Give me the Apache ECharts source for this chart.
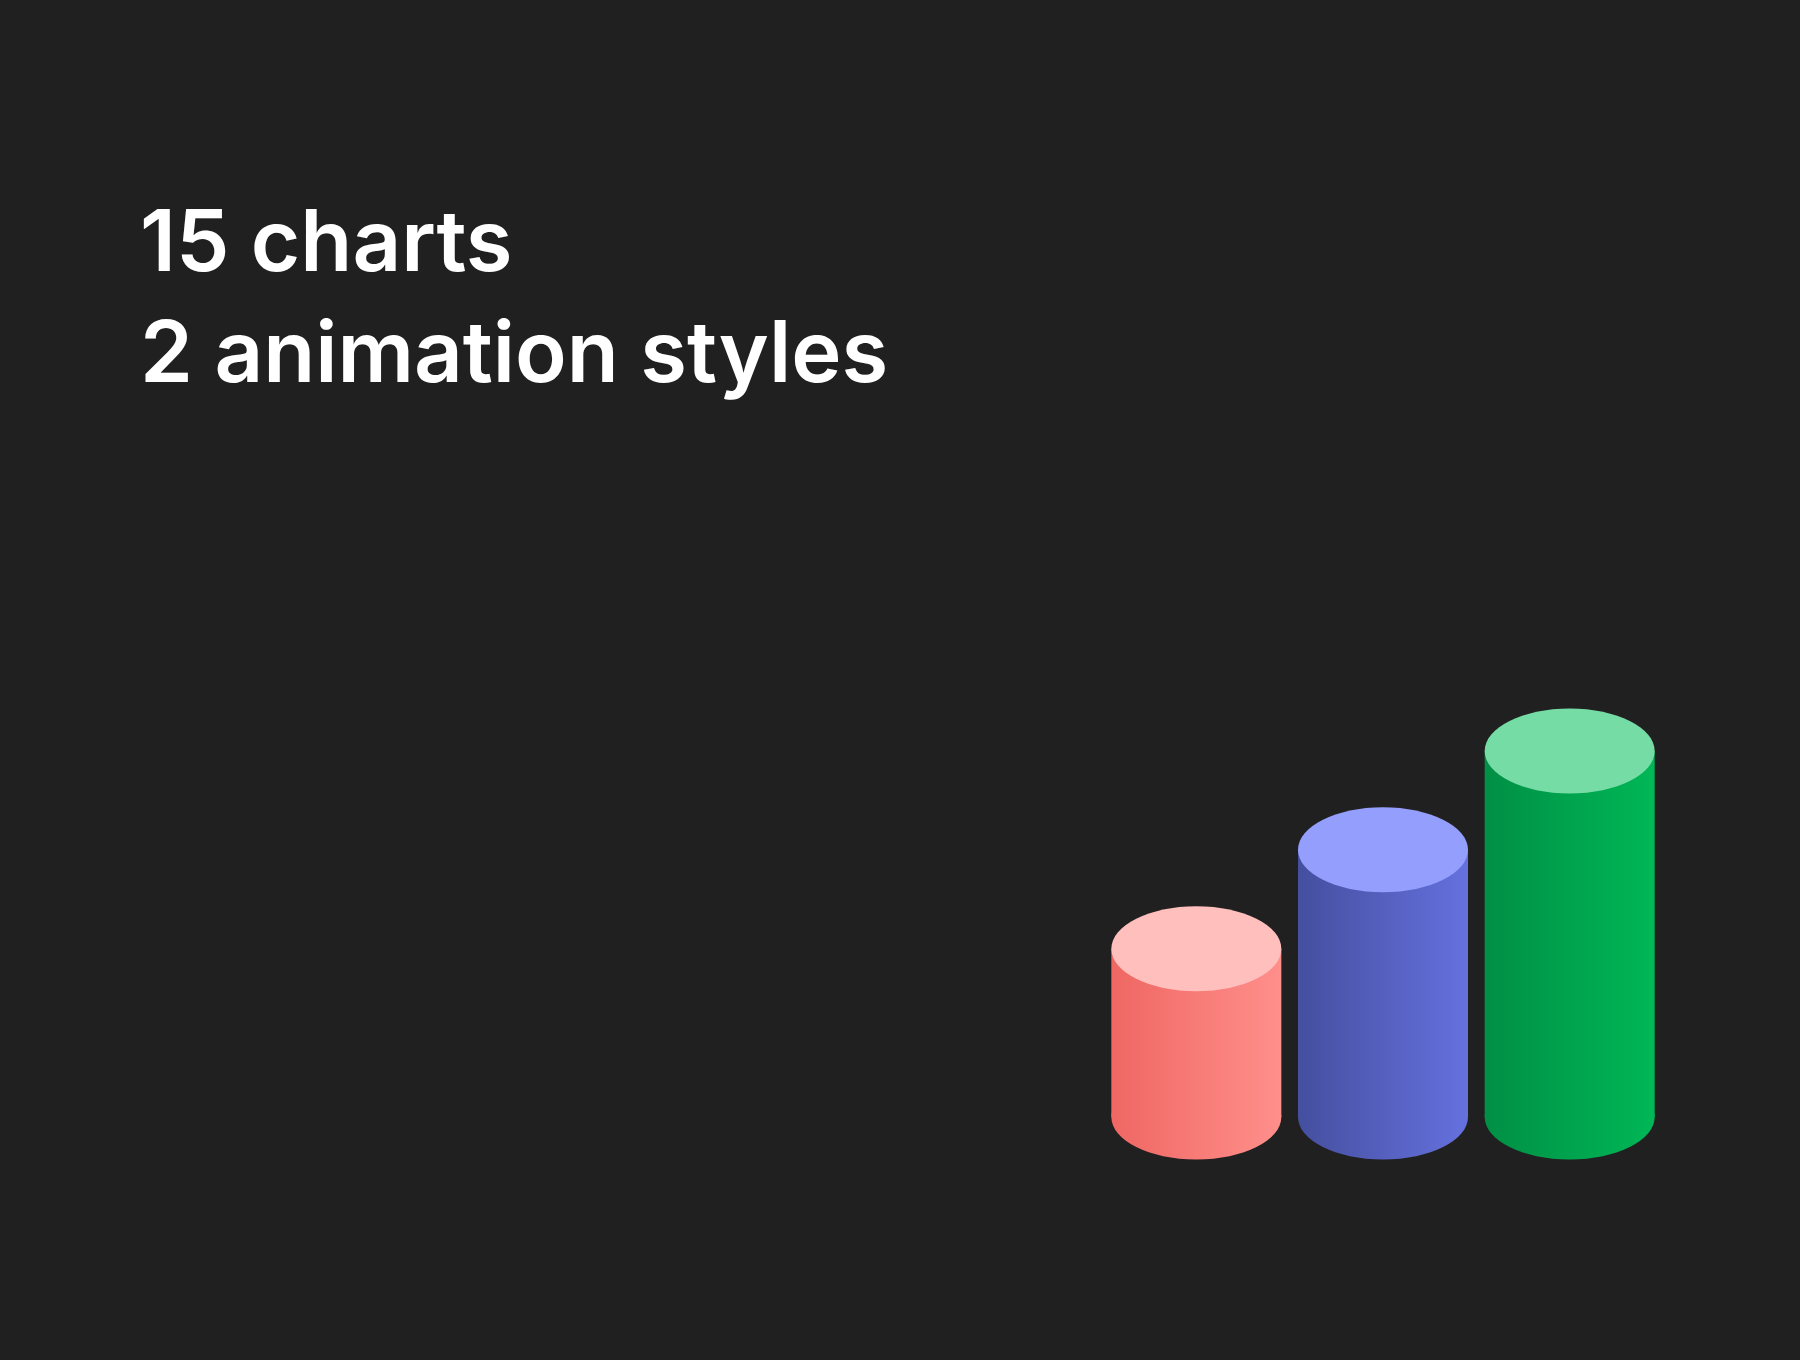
<!DOCTYPE html>
<html>
<head>
<meta charset="utf-8">
<script src="https://cdn.jsdelivr.net/npm/echarts@6/dist/echarts.min.js"></script>
<style>
html,body{margin:0;padding:0;background:#202020;}
#chart{width:1800px;height:1360px;}
</style>
</head>
<body>
<div id="chart"></div>
<script>
var categories = ['A', 'B', 'C'];
var values = [46, 73, 100];
var headline = ['15 charts', '2 animation styles'];

var bodyColors = [
  ['#ef6763', '#ff8f8b'],
  ['#454f9f', '#6571de'],
  ['#008f45', '#00b756']
];
var capColors = ['#ffbfbd', '#939efd', '#76dca6'];

var chart = echarts.init(document.getElementById('chart'));

function grad(c) {
  return new echarts.graphic.LinearGradient(0, 0, 1, 0, [
    { offset: 0, color: c[0] },
    { offset: 1, color: c[1] }
  ]);
}

var option = {
  backgroundColor: '#202020',
  animation: false,
  title: {
    text: headline.join('\n'),
    left: 140,
    top: 190,
    padding: 0,
    textStyle: {
      color: '#ffffff',
      fontFamily: 'Inter',
      fontWeight: 600,
      fontSize: 85,
      lineHeight: 111
    }
  },
  grid: { left: 1103, width: 560, bottom: 243, height: 366 },
  xAxis: { type: 'category', data: categories, show: false },
  yAxis: { type: 'value', min: 0, max: 100, show: false },
  series: [{
    type: 'custom',
    renderItem: function (params, api) {
      var i = params.dataIndex;
      var top = api.coord([i, api.value(1)]);
      var base = api.coord([i, 0]);
      var w = 170, rx = w / 2, ry = 42.5;
      var g = grad(bodyColors[i]);
      return {
        type: 'group',
        children: [
          { type: 'rect', shape: { x: top[0] - rx, y: top[1], width: w, height: base[1] - top[1] }, style: { fill: g } },
          { type: 'ellipse', shape: { cx: base[0], cy: base[1], rx: rx, ry: ry }, style: { fill: g } },
          { type: 'ellipse', shape: { cx: top[0], cy: top[1], rx: rx, ry: ry }, style: { fill: capColors[i] } }
        ]
      };
    },
    encode: { x: 0, y: 1 },
    data: values.map(function (v, i) { return [i, v]; })
  }]
};
chart.setOption(option);
</script>
</body>
</html>
